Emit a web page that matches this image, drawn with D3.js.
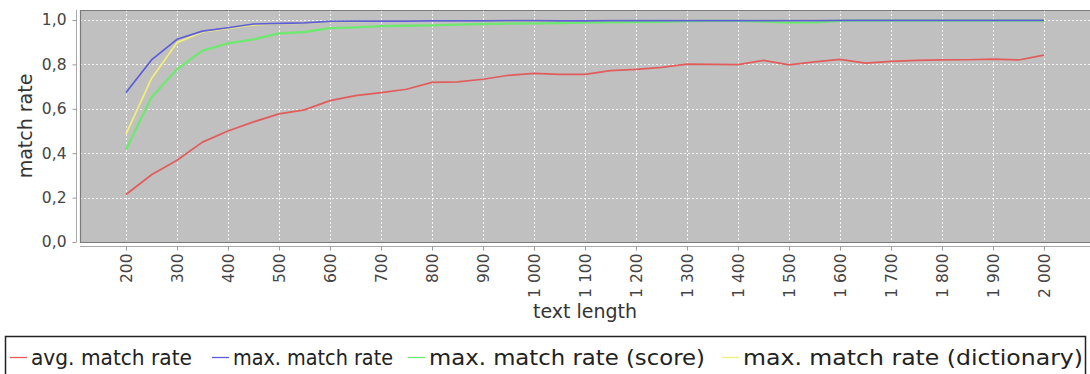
<!DOCTYPE html>
<html>
<head>
<meta charset="utf-8">
<script src="https://cdn.jsdelivr.net/npm/d3@7"></script>
<style>
  body { margin: 0; background: #fff; }
  svg { display: block; }
  text { font-family: "DejaVu Sans", sans-serif; }
</style>
</head>
<body>
<svg id="chart" width="1090" height="374"></svg>
<script>
// Text lengths (x) and match rates for each series
const textLength = [200, 250, 300, 350, 400, 450, 500, 550, 600, 650, 700, 750, 800, 850, 900, 950,
  1000, 1050, 1100, 1150, 1200, 1250, 1300, 1350, 1400, 1450, 1500, 1550, 1600, 1650, 1700, 1750,
  1800, 1850, 1900, 1950, 2000];

const avgMatchRate = [0.214, 0.303, 0.368, 0.450, 0.500, 0.541, 0.577, 0.595, 0.637, 0.659, 0.673,
  0.688, 0.719, 0.721, 0.733, 0.751, 0.760, 0.755, 0.755, 0.772, 0.778, 0.787, 0.801, 0.800, 0.799,
  0.818, 0.798, 0.811, 0.823, 0.806, 0.814, 0.818, 0.820, 0.821, 0.824, 0.820, 0.842];

const maxMatchRate = [0.673, 0.820, 0.913, 0.950, 0.965, 0.982, 0.985, 0.987, 0.994, 0.995, 0.995,
  0.995, 0.996, 0.996, 0.996, 0.997, 0.997, 0.996, 0.996, 0.997, 0.997, 0.997, 0.997, 0.997, 0.997,
  0.997, 0.997, 0.997, 0.998, 0.998, 0.998, 0.998, 0.998, 0.998, 0.998, 0.998, 0.998];

const maxMatchRateScore = [0.417, 0.652, 0.778, 0.862, 0.895, 0.913, 0.940, 0.946, 0.963, 0.967, 0.972,
  0.974, 0.976, 0.979, 0.982, 0.984, 0.985, 0.986, 0.988, 0.989, 0.990, 0.992, 0.995, 0.996, 0.996,
  0.993, 0.988, 0.989, 0.996, 0.997, 0.997, 0.997, 0.997, 0.997, 0.997, 0.997, 0.997];

const maxMatchRateDictionary = [0.486, 0.737, 0.898, 0.946, 0.962, 0.978, 0.983, 0.986, 0.992, 0.994, 0.995,
  0.995, 0.996, 0.996, 0.996, 0.997, 0.997, 0.996, 0.996, 0.997, 0.997, 0.997, 0.997, 0.997, 0.997,
  0.997, 0.997, 0.997, 0.998, 0.998, 0.998, 0.998, 0.998, 0.998, 0.998, 0.998, 0.998];

const seriesNames = ["avg. match rate", "max. match rate", "max. match rate (score)", "max. match rate (dictionary)"];
const seriesColors = ["#e25c5c", "#5c5cdc", "#6ee86e", "#f2ee78"];

const xTicks = [200, 300, 400, 500, 600, 700, 800, 900, 1000, 1100, 1200, 1300, 1400, 1500, 1600, 1700, 1800, 1900, 2000];
const xTickLabels = ["200", "300", "400", "500", "600", "700", "800", "900", "1 000", "1 100", "1 200",
  "1 300", "1 400", "1 500", "1 600", "1 700", "1 800", "1 900", "2 000"];
const yTicks = [0, 0.2, 0.4, 0.6, 0.8, 1.0];
const yTickLabels = ["0,0", "0,2", "0,4", "0,6", "0,8", "1,0"];

const xTitle = "text length";
const yTitle = "match rate";

// Layout
const plot = { left: 80, right: 1090, top: 10, bottom: 242 };
const svg = d3.select("#chart");

const x = d3.scaleLinear().domain([200, 2000]).range([126, 1044]);
const y = d3.scaleLinear().domain([0, 1]).range([242, 20]);

// Plot background
svg.append("rect")
  .attr("x", plot.left).attr("y", plot.top)
  .attr("width", plot.right - plot.left).attr("height", plot.bottom - plot.top)
  .attr("fill", "#c0c0c0");

// Gridlines
const grid = svg.append("g").attr("stroke", "#ffffff").attr("stroke-width", 1)
  .attr("stroke-dasharray", "2,2").attr("opacity", 0.85);
grid.selectAll("line.v").data(xTicks).join("line")
  .attr("class", "v")
  .attr("x1", d => Math.round(x(d)) + 0.5).attr("x2", d => Math.round(x(d)) + 0.5)
  .attr("y1", plot.top).attr("y2", plot.bottom);
grid.selectAll("line.h").data(yTicks.filter(d => d > 0)).join("line")
  .attr("class", "h")
  .attr("x1", plot.left).attr("x2", plot.right)
  .attr("y1", d => Math.round(y(d)) + 0.5).attr("y2", d => Math.round(y(d)) + 0.5);

// Series lines, drawn last-to-first so the first series sits on top
const series = [avgMatchRate, maxMatchRate, maxMatchRateScore, maxMatchRateDictionary];
const line = d3.line().x((d, i) => x(textLength[i])).y(d => y(d));
const widths = [1.7, 1.7, 2.3, 1.7];
for (let s = series.length - 1; s >= 0; s--) {
  svg.append("path")
    .datum(series[s])
    .attr("fill", "none")
    .attr("stroke", seriesColors[s])
    .attr("stroke-width", widths[s])
    .attr("stroke-linejoin", "round")
    .attr("d", line);
}

// Plot outline
svg.append("path")
  .attr("d", `M${plot.right},${plot.top + 0.5}H${plot.left + 0.5}V${plot.bottom + 0.5}H${plot.right}`)
  .attr("fill", "none").attr("stroke", "#7a7a7a").attr("stroke-width", 1.2);

// Y axis
const yAxis = d3.axisLeft(y).tickValues(yTicks)
  .tickFormat((d, i) => yTickLabels[i]).tickSize(4).tickPadding(6);
const gy = svg.append("g").attr("transform", "translate(76.5,0)").call(yAxis);
gy.select(".domain").attr("stroke", "#a8a8a8").attr("d", `M-0,${plot.top}V${plot.bottom}`);
gy.selectAll(".tick line").attr("stroke", "#999");
gy.selectAll(".tick text").attr("font-size", 15.5).attr("fill", "#444")
  .attr("font-family", "DejaVu Sans, sans-serif");

// X axis
const xAxis = d3.axisBottom(x).tickValues(xTicks)
  .tickFormat((d, i) => xTickLabels[i]).tickSize(4).tickPadding(0);
const gx = svg.append("g").attr("transform", "translate(0,246.5)").call(xAxis);
gx.select(".domain").attr("stroke", "#a8a8a8").attr("d", `M${plot.left},0H${plot.right}`);
gx.selectAll(".tick line").attr("stroke", "#999");
gx.selectAll(".tick text")
  .attr("font-size", 15.5).attr("fill", "#444")
  .attr("font-family", "DejaVu Sans, sans-serif")
  .attr("text-anchor", "end")
  .attr("transform", "rotate(-90)")
  .attr("x", -7).attr("y", 0).attr("dy", "0.35em");

// Axis titles
svg.append("text")
  .attr("x", (plot.left + plot.right) / 2).attr("y", 318)
  .attr("text-anchor", "middle").attr("font-size", 19).attr("fill", "#333")
  .text(xTitle);
svg.append("text")
  .attr("transform", `translate(32,${(plot.top + plot.bottom) / 2}) rotate(-90)`)
  .attr("text-anchor", "middle").attr("font-size", 19).attr("fill", "#333")
  .text(yTitle);

// Legend: box, then a short line sample and label per series
svg.append("rect")
  .attr("x", 5.5).attr("y", 336.5).attr("width", 1080).attr("height", 60)
  .attr("fill", "#fff").attr("stroke", "#222").attr("stroke-width", 1.5);
const legendX = [10, 212, 408, 722];
const legendTextWidth = [161, 160, 276, 340];
seriesNames.forEach((name, i) => {
  svg.append("line")
    .attr("x1", legendX[i]).attr("x2", legendX[i] + 17).attr("y1", 357.5).attr("y2", 357.5)
    .attr("stroke", seriesColors[i]).attr("stroke-width", 1.3);
  svg.append("text")
    .attr("x", legendX[i] + 21).attr("y", 364.5)
    .attr("font-size", 20.5).attr("fill", "#222")
    .attr("textLength", legendTextWidth[i]).attr("lengthAdjust", "spacingAndGlyphs")
    .text(name);
});
</script>
</body>
</html>
